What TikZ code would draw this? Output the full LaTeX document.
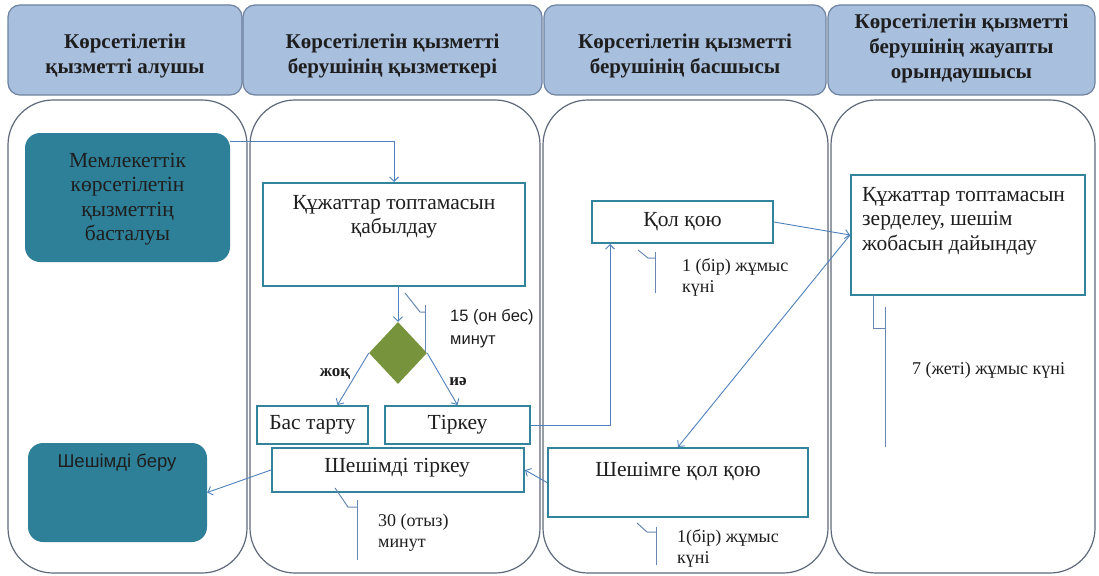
\documentclass[tikz,border=0pt]{standalone}
\usepackage{fontspec}
\setmainfont{Liberation Serif}
\newfontfamily\sansf{Liberation Sans}
\usetikzlibrary{arrows.meta,shapes.geometric}
\definecolor{hdrfill}{RGB}{168,191,222}
\definecolor{hdrline}{RGB}{110,130,160}
\definecolor{laneline}{RGB}{95,105,122}
\definecolor{tealc}{RGB}{49,132,155}
\definecolor{termfill}{RGB}{46,128,152}
\definecolor{arrowc}{RGB}{79,129,189}
\definecolor{brkc}{RGB}{105,135,178}
\definecolor{diafill}{RGB}{119,147,60}
\definecolor{txtc}{RGB}{30,30,30}
\begin{document}
\begin{tikzpicture}[x=1pt,y=-1pt,
  hdr/.style={draw=hdrline,line width=1.2pt,fill=hdrfill,rounded corners=12pt,minimum height=90pt,inner sep=0pt},
  hdrtxt/.style={align=center,font=\fontsize{21}{25}\selectfont\bfseries,text=txtc,inner sep=0pt},
  lane/.style={draw=laneline,line width=1.2pt,rounded corners=45pt,minimum height=473pt,inner sep=0pt},
  proc/.style={draw=tealc,line width=2pt,fill=white,inner sep=0pt},
  term/.style={fill=termfill,rounded corners=15pt,inner sep=0pt},
  btxt/.style={font=\fontsize{21.5}{24.5}\selectfont,text=txtc,inner sep=0pt,align=center},
  stxt/.style={font=\fontsize{18}{21}\selectfont,text=txtc,inner sep=0pt,align=left,anchor=west},
  arr/.style={draw=arrowc,line width=0.9pt,-{Straight Barb[length=4.5pt,width=9pt]}},
  brk/.style={draw=brkc,line width=1pt}]
\useasboundingbox (0,0) rectangle (1099,575);
\fill[white] (0,0) rectangle (1099,575);

% headers
\node[hdr,minimum width=234pt] (h1) at (125,50) {};
\node[hdr,minimum width=299pt] (h2) at (392.5,50) {};
\node[hdr,minimum width=282pt] (h3) at (685,50) {};
\node[hdr,minimum width=267pt] (h4) at (961.5,50) {};
\node[hdrtxt] (h1t) at (125,56) {Көрсетілетін\\қызметті алушы};
\node[hdrtxt] (h2t) at (392.5,56) {Көрсетілетін қызметті\\берушінің қызметкері};
\node[hdrtxt] (h3t) at (685,56) {Көрсетілетін қызметті\\берушінің басшысы};
\node[hdrtxt] (h4t) at (961.5,48) {Көрсетілетін қызметті\\берушінің жауапты\\орындаушысы};

% lanes
\node[lane,minimum width=239pt] (l1) at (127.5,336.5) {};
\node[lane,minimum width=290pt] (l2) at (395,336.5) {};
\node[lane,minimum width=285pt] (l3) at (685.5,336.5) {};
\node[lane,minimum width=264pt] (l4) at (963,336.5) {};

% nodes
\node[term,minimum width=205pt,minimum height=129pt] (start) at (127.5,197.5) {};
\node[btxt] (startt) at (127.5,199) {Мемлекеттік\\көрсетілетін\\қызметтің\\басталуы};

\node[proc,minimum width=262pt,minimum height=103pt] (recv) at (394,234.5) {};
\node[btxt] (recvt) at (394,217) {Құжаттар топтамасын\\қабылдау};

\node[diamond,fill=diafill,minimum width=58pt,minimum height=62pt,inner sep=0pt] (dia) at (398,353) {};

\node[proc,minimum width=111pt,minimum height=38pt] (reject) at (312.5,425) {};
\node[btxt] (rejectt) at (312.5,425) {Бас тарту};
\node[proc,minimum width=145pt,minimum height=38pt] (reg) at (457.5,425) {};
\node[btxt] (regt) at (457.5,425) {Тіркеу};

\node[proc,minimum width=252pt,minimum height=44pt] (regdec) at (398,470) {};
\node[btxt] (regdect) at (397,468) {Шешімді тіркеу};

\node[term,minimum width=179pt,minimum height=99pt] (issue) at (117.5,492.5) {};
\node[btxt,font=\sansf\fontsize{18.5}{22}\selectfont] (issuet) at (117,463) {Шешімді беру};

\node[proc,minimum width=181pt,minimum height=42pt] (sign) at (682.5,222) {};
\node[btxt] (signt) at (682.5,222) {Қол қою};

\node[proc,minimum width=234pt,minimum height=120pt] (study) at (968,235) {};
\node[btxt,align=left,anchor=west] (studyt) at (862,221) {Құжаттар топтамасын\\зерделеу, шешім\\жобасын дайындау};

\node[proc,minimum width=260pt,minimum height=69pt] (signdec) at (678,482.5) {};
\node[btxt] (signdect) at (678,471) {Шешімге қол қою};

% connectors
\draw[arr] ([yshift=-9pt]start.north east) -| (recv.north);
\draw[arr] (recv.south -| dia.north) -- (dia.north);
\draw[arr] (dia.west) -- ([xshift=25pt]reject.north);
\draw[arr] (dia.east) -- (reg.north);
\draw[arr] (reg.east) -| ([xshift=-72.5pt]sign.south);
\draw[arr] (sign.east) -- (study.west);
\draw[arr] (study.west) -- (signdec.north);
\draw[arr] (signdec.west) -- (regdec.east);
\draw[arr] (regdec.west) -- (issue.east);

% decision labels
\node[font=\fontsize{17}{19}\selectfont\bfseries,text=txtc,inner sep=0pt] (no) at (335,374) {жоқ};
\node[font=\fontsize{17}{19}\selectfont\bfseries,text=txtc,inner sep=0pt] (yes) at (458,382) {иә};

% duration brackets
\draw[brk] (405,293) -- (420,312) -- (425,312);
\draw[brk] (425,305) -- (425,352);
\node[stxt,font=\sansf\fontsize{16.5}{23}\selectfont] (t15) at (450,329) {15 (он бес)\\минут};

\draw[brk] (638,250) -- (648,258) -- (655,258);
\draw[brk] (655,252) -- (655,293);
\node[stxt] (t1a) at (682,277) {1 (бір) жұмыс\\күні};

\draw[brk] (873,295) -- (873,328) -- (885,328);
\draw[brk] (885,307) -- (885,447);
\node[stxt] (t7) at (912,370) {7 (жеті) жұмыс күні};

\draw[brk] (335,488) -- (348,507) -- (357,507);
\draw[brk] (357,500) -- (357,560);
\node[stxt] (t30) at (378,533) {30 (отыз)\\минут};

\draw[brk] (637,523) -- (647,532) -- (656,532);
\draw[brk] (656,527) -- (656,565);
\node[stxt] (t1b) at (677,548) {1(бір) жұмыс\\күні};
\end{tikzpicture}
\end{document}
